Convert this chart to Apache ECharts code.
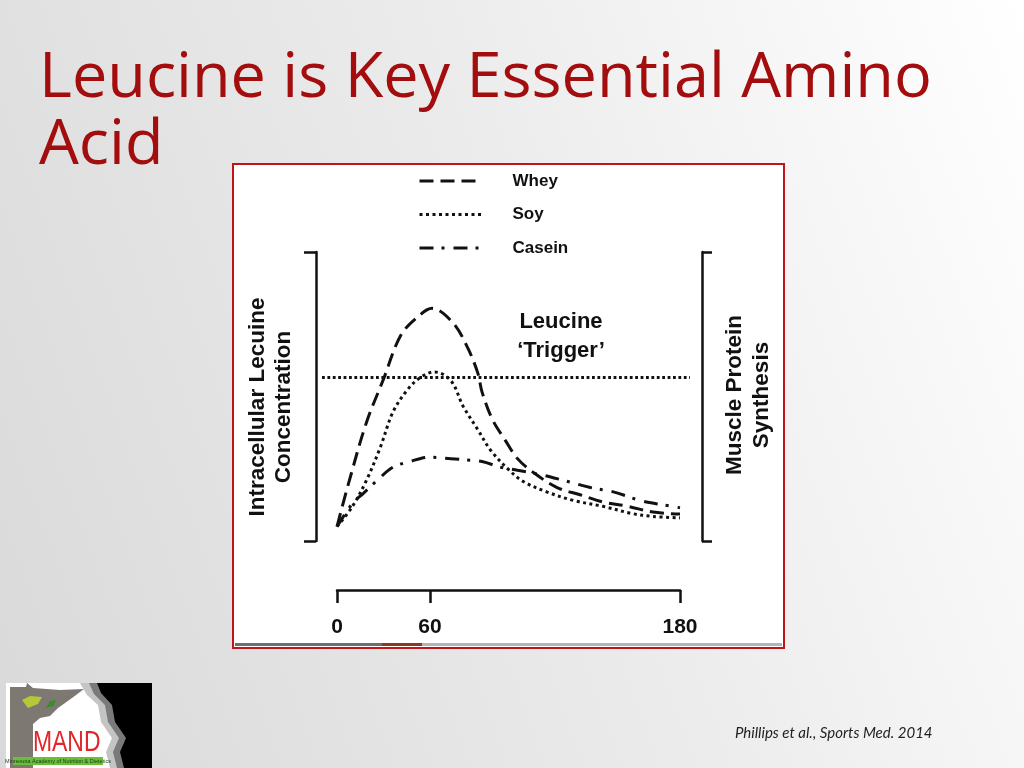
<!DOCTYPE html>
<html>
<head>
<meta charset="utf-8">
<script src="https://cdn.jsdelivr.net/npm/echarts@6/dist/echarts.min.js"></script>
<style>
  html, body { margin: 0; padding: 0; }
  #c { width: 1024px; height: 768px; background: linear-gradient(70deg, #d9d9d9 0%, #ececec 55%, #ffffff 100%); }
</style>
</head>
<body>
<div id="c"></div>
<script>
// ---------------- data ----------------
const timeTicks = [0, 60, 180];               // x-axis tick labels (minutes)
const seriesNames = ['Whey', 'Soy', 'Casein'];

const wheyTime  = [0, 8, 19, 30, 41, 52, 61, 71, 78, 83, 85, 90, 96, 102, 110, 121, 132, 143, 155, 167, 180];
const wheyLevel = [5, 21, 41, 56, 71, 77.5, 80.5, 75.5, 67, 58, 51.5, 42, 35, 28.5, 23.5, 18.5, 16, 13.5, 12, 10, 9.3];

const soyTime  = [0, 10, 19, 28, 36, 45, 53.5, 62, 70, 76, 83, 89, 98, 105, 116, 129, 143, 157, 167, 180];
const soyLevel = [5, 12, 21, 32.5, 44.5, 52, 56.5, 58.5, 55.5, 46.5, 38.5, 31.5, 24.5, 20.5, 17, 14, 12, 9.5, 8.5, 8];

const caseinTime  = [0, 10, 17, 26, 36, 47, 60, 70, 78, 85, 94, 102, 113, 124, 137, 148, 161, 172, 180];
const caseinLevel = [5, 13, 16.5, 21, 25.5, 27.5, 29, 28.5, 28, 27.5, 25.5, 24.5, 23, 21, 18.5, 17, 14, 12.5, 11.5];

const triggerLevel = 56.5;                     // leucine "trigger" threshold

const titleText     = 'Leucine is Key Essential Amino\nAcid';
const leftAxisName  = 'Intracellular Lecuine\nConcentration';
const rightAxisName = 'Muscle Protein\nSynthesis';
const triggerText   = 'Leucine\n\u2018Trigger\u2019';
const citationText  = 'Phillips et al., Sports Med. 2014';
const logoText      = 'MAND';
const logoSubText   = 'Minnesota Academy of Nutrition & Dietetics';

// --------------- schematic time axis (drawn non-linearly in the source figure) ---------------
const axisStops = [0, 48.8, 180];   // axis position of each entry of timeTicks
function toAxis(m) {
  for (let i = 1; i < timeTicks.length; i++) {
    if (m <= timeTicks[i] || i === timeTicks.length - 1) {
      const t = (m - timeTicks[i - 1]) / (timeTicks[i] - timeTicks[i - 1]);
      return axisStops[i - 1] + t * (axisStops[i] - axisStops[i - 1]);
    }
  }
  return m;
}
const zip = (xs, ys) => xs.map((x, i) => [toAxis(x), ys[i]]);
const tickPositions = timeTicks.map(toAxis);

const FONT = '"Liberation Sans", Arial, sans-serif';
const INK = '#111111';

const chart = echarts.init(document.getElementById('c'), null, { renderer: 'canvas' });

const lineBase = { type: 'line', xAxisIndex: 0, yAxisIndex: 0, smooth: 0.35, symbol: 'none', showSymbol: false, silent: true, animation: false };

const option = {
  animation: false,
  backgroundColor: 'transparent',
  grid: [
    { left: 337, top: 252, width: 343, height: 289, outerBoundsMode: 'none', containLabel: false },
    { left: 322, top: 252, width: 368, height: 289, outerBoundsMode: 'none', containLabel: false }
  ],
  xAxis: [
    {
      gridIndex: 0, type: 'value', min: 0, max: 180, position: 'bottom', offset: 49,
      axisLine: { show: true, onZero: false, lineStyle: { color: INK, width: 2.5 } },
      axisTick: { show: true, customValues: tickPositions, length: 13, lineStyle: { color: INK, width: 2.5 } },
      axisLabel: {
        show: true, customValues: tickPositions, margin: 27,
        fontSize: 21, fontWeight: 'bold', fontFamily: FONT, color: INK,
        formatter: v => {
          const i = tickPositions.findIndex(p => Math.abs(p - v) < 0.01);
          return i >= 0 ? String(timeTicks[i]) : '';
        }
      },
      splitLine: { show: false }
    },
    { gridIndex: 1, type: 'value', min: 0, max: 1, show: false }
  ],
  yAxis: [
    {
      gridIndex: 0, type: 'value', min: 0, max: 100, position: 'left', offset: 21,
      axisLine: { show: true, onZero: false, lineStyle: { color: INK, width: 2.5 } },
      axisTick: { show: true, customValues: [0, 100], length: 12, lineStyle: { color: INK, width: 2.5 } },
      axisLabel: { show: false }, splitLine: { show: false }
    },
    {
      gridIndex: 0, type: 'value', min: 0, max: 100, position: 'right', offset: 22,
      axisLine: { show: true, onZero: false, lineStyle: { color: INK, width: 2.5 } },
      axisTick: { show: true, customValues: [0, 100], length: 10, lineStyle: { color: INK, width: 2.5 } },
      axisLabel: { show: false }, splitLine: { show: false }
    },
    { gridIndex: 1, type: 'value', min: 0, max: 100, show: false }
  ],
  legend: {
    data: seriesNames, orient: 'vertical', left: 418, top: 168, padding: 0,
    itemWidth: 62, itemHeight: 14, itemGap: 7.5, selectedMode: false,
    lineStyle: { width: 3 },
    itemStyle: { opacity: 0, borderWidth: 0 },
    textStyle: { fontSize: 17, fontWeight: 'bold', fontFamily: FONT, color: INK, lineHeight: 20, padding: [6, 0, 0, 26] }
  },
  series: [
    Object.assign({}, lineBase, { name: seriesNames[0], data: zip(wheyTime, wheyLevel),
      lineStyle: { color: INK, width: 3, type: [14, 7] } }),
    Object.assign({}, lineBase, { name: seriesNames[1], data: zip(soyTime, soyLevel),
      lineStyle: { color: INK, width: 3, type: [3, 3.5] } }),
    Object.assign({}, lineBase, { name: seriesNames[2], data: zip(caseinTime, caseinLevel),
      lineStyle: { color: INK, width: 3, type: [14, 8, 3, 9] } }),
    {
      type: 'line', name: 'Leucine Trigger', xAxisIndex: 1, yAxisIndex: 2, data: [], silent: true,
      markLine: {
        silent: true, symbol: ['none', 'none'], label: { show: false }, animation: false,
        lineStyle: { color: INK, width: 2.8, type: [2.8, 2.6] },
        emphasis: { disabled: true },
        data: [{ yAxis: triggerLevel }]
      }
    }
  ],
  graphic: [
    // white figure panel with red frame
    { type: 'rect', z: -10, silent: true, shape: { x: 233, y: 164, width: 551, height: 484 },
      style: { fill: '#ffffff', stroke: '#c0141a', lineWidth: 2 } },
    { type: 'rect', z: -9, silent: true, shape: { x: 235, y: 643, width: 147, height: 3 }, style: { fill: '#6e6e6e' } },
    { type: 'rect', z: -9, silent: true, shape: { x: 382, y: 643, width: 40, height: 3 }, style: { fill: '#8a3a20' } },
    { type: 'rect', z: -9, silent: true, shape: { x: 422, y: 643, width: 360, height: 3 }, style: { fill: '#b5b5b5' } },

    // slide title
    { type: 'text', z: 5, silent: true, x: 39, y: 113,
      style: { text: titleText, fontSize: 63, fontFamily: '"Open Sans", "Noto Sans", sans-serif', fill: '#a30d0d',
               lineHeight: 67, align: 'left', verticalAlign: 'middle' } },

    // Leucine trigger annotation
    { type: 'text', z: 5, silent: true, x: 561, y: 336.5,
      style: { text: triggerText, fontSize: 22, fontWeight: 'bold', fontFamily: FONT, fill: INK,
               lineHeight: 29, align: 'center', verticalAlign: 'middle' } },

    // axis names (rotated)
    { type: 'text', z: 5, silent: true, x: 271, y: 407, rotation: Math.PI / 2,
      style: { text: leftAxisName, fontSize: 22.5, fontWeight: 'bold', fontFamily: FONT, fill: INK,
               lineHeight: 26, align: 'center', verticalAlign: 'middle' } },
    { type: 'text', z: 5, silent: true, x: 748.5, y: 395, rotation: Math.PI / 2,
      style: { text: rightAxisName, fontSize: 22.5, fontWeight: 'bold', fontFamily: FONT, fill: INK,
               lineHeight: 27, align: 'center', verticalAlign: 'middle' } },

    // citation
    { type: 'text', z: 5, silent: true, x: 735, y: 733,
      style: { text: citationText, fontSize: 15, fontStyle: 'italic', fontFamily: 'Lato, "Open Sans", sans-serif',
               fill: '#222222', align: 'left', verticalAlign: 'middle' } },

    // logo (approximation)
    { type: 'rect', z: 1, silent: true, shape: { x: 6, y: 683, width: 146, height: 85 }, style: { fill: '#ffffff' } },
    { type: 'polygon', z: 2, silent: true, shape: { points: [[80,683],[152,683],[152,768],[110,768],[106,752],[112,738],[101,722],[98,705],[87,695]] }, style: { fill: '#c4c4c4' } },
    { type: 'polygon', z: 3, silent: true, shape: { points: [[89,683],[152,683],[152,768],[117,768],[113,752],[119,738],[108,722],[105,705],[94,694]] }, style: { fill: '#7a7a7a' } },
    { type: 'polygon', z: 4, silent: true, shape: { points: [[97,683],[152,683],[152,768],[124,768],[120,752],[126,738],[115,722],[112,705],[101,693]] }, style: { fill: '#000000' } },
    { type: 'polygon', z: 2, silent: true, shape: { points: [[10,687],[26,687],[27,683],[33,688],[60,690],[84,689],[72,698],[58,708],[50,716],[40,718],[33,724],[33,768],[10,768]] }, style: { fill: '#7d7872' } },
    { type: 'polygon', z: 3, silent: true, shape: { points: [[22,700],[30,696],[42,697],[38,704],[28,708]] }, style: { fill: '#b8c63a' } },
    { type: 'polygon', z: 3, silent: true, shape: { points: [[46,708],[50,701],[56,700],[54,706]] }, style: { fill: '#3f8a2c' } },
    { type: 'text', z: 5, silent: true, x: 33, y: 743, scaleX: 0.79,
      style: { text: logoText, fontSize: 29, fontFamily: FONT, fill: '#e0262a', align: 'left', verticalAlign: 'middle' } },
    { type: 'rect', z: 5, silent: true, shape: { x: 13, y: 757, width: 90, height: 8 }, style: { fill: '#6abf3a' } },
    { type: 'text', z: 6, silent: true, x: 58, y: 761,
      style: { text: logoSubText, fontSize: 5.5, fontFamily: FONT, fill: '#1c3a12', align: 'center', verticalAlign: 'middle' } }
  ]
};

chart.setOption(option);
</script>
</body>
</html>
